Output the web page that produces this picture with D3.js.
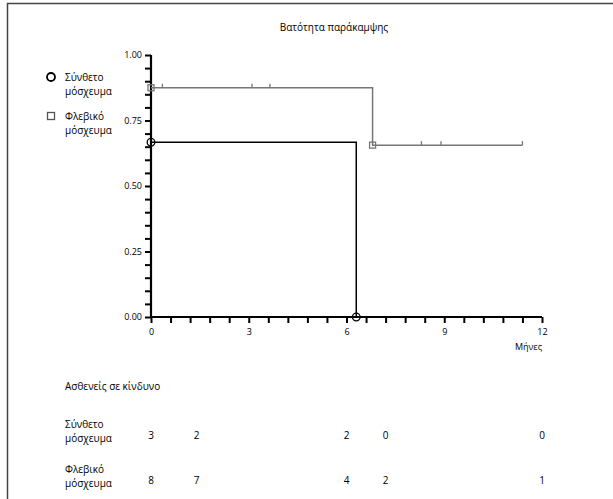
<!DOCTYPE html>
<html>
<head>
<meta charset="utf-8">
<script src="https://cdn.jsdelivr.net/npm/d3@7"></script>
<style>
  body { margin: 0; background: #fff; }
  svg { font-family: "Open Sans", sans-serif; }
</style>
</head>
<body>
<div id="chart"></div>
<script>
// data
const title = "Βατότητα παράκαμψης";
const groups = ["Σύνθετο μόσχευμα", "Φλεβικό μόσχευμα"];

const compositeTime = [0, 6.3];
const compositeSurv = [0.667, 0];
const compositeEvents = [0, 6.3];

const venousTime = [0, 6.8, 11.4];
const venousSurv = [0.875, 0.656, 0.656];
const venousEvents = [0, 6.8];
const venousCensored = [0.35, 3.1, 3.65, 8.3, 8.9, 11.4];

const xTicks = [0, 3, 6, 9, 12];
const yTicks = [0, 0.25, 0.5, 0.75, 1];

const riskTimes = [0, 1.4, 6, 7.2, 12];
const riskComposite = [3, 2, 2, 0, 0];
const riskVenous = [8, 7, 4, 2, 1];

const width = 613, height = 499;
const fs = 10;

const svg = d3.select("#chart").append("svg")
  .attr("width", width)
  .attr("height", height);

// frame
svg.append("rect")
  .attr("x", 7.5).attr("y", 3.5)
  .attr("width", 700).attr("height", 600)
  .attr("fill", "none")
  .attr("stroke", "#444")
  .attr("stroke-width", 1.5);

const x = d3.scaleLinear([0, 12], [151, 542]);
const y = d3.scaleLinear([0, 1], [317, 55]);

svg.append("text")
  .attr("x", 334).attr("y", 31)
  .attr("text-anchor", "middle")
  .attr("font-size", fs)
  .text(title);

// y axis
const yAxis = svg.append("g")
  .attr("transform", `translate(${x(0)},0)`)
  .call(d3.axisLeft(y).tickValues(d3.range(0, 1.0001, 0.05)).tickSize(6)
    .tickFormat(d => yTicks.some(t => Math.abs(t - d) < 1e-6) ? d3.format(".2f")(d) : ""));
yAxis.select(".domain").attr("stroke-width", 2.2).attr("d", `M0,${y(1)}V${y(0)}`);
yAxis.selectAll(".tick line").attr("stroke-width", 2);
yAxis.selectAll("text").attr("font-size", 9).attr("font-family", "Open Sans").attr("x", -9);

// x axis
const xAxis = svg.append("g")
  .attr("transform", `translate(0,${y(0)})`)
  .call(d3.axisBottom(x).tickValues(d3.range(0, 12.0001, 0.6)).tickSize(6)
    .tickFormat(d => xTicks.some(t => Math.abs(t - d) < 1e-6) ? d3.format("d")(d) : ""));
xAxis.select(".domain").attr("stroke-width", 2.2).attr("d", `M${x(0)},0H${x(12)}`);
xAxis.selectAll(".tick line").attr("stroke-width", 2);
xAxis.selectAll("text").attr("font-size", 9).attr("font-family", "Open Sans").attr("y", 12);

svg.append("text")
  .attr("x", x(12)).attr("y", 350)
  .attr("text-anchor", "end")
  .attr("font-size", 9)
  .text("Μήνες");

// step curves
const step = d3.line().curve(d3.curveStepAfter).x(d => x(d[0])).y(d => y(d[1]));

svg.append("path")
  .attr("d", step(d3.zip(venousTime, venousSurv)))
  .attr("fill", "none").attr("stroke", "#777").attr("stroke-width", 1.5);

svg.append("path")
  .attr("d", step(d3.zip(compositeTime, compositeSurv)))
  .attr("fill", "none").attr("stroke", "#000").attr("stroke-width", 1.5);

// censor ticks
const venousAt = t => venousSurv[d3.bisectRight(venousTime, t) - 1];
svg.append("g").selectAll("line")
  .data(venousCensored)
  .join("line")
  .attr("x1", d => x(d)).attr("x2", d => x(d))
  .attr("y1", d => y(venousAt(d))).attr("y2", d => y(venousAt(d)) - 4)
  .attr("stroke", "#777").attr("stroke-width", 1.3);

// event markers
const compositeAt = t => compositeSurv[d3.bisectRight(compositeTime, t) - 1];
svg.append("g").selectAll("circle")
  .data(compositeEvents)
  .join("circle")
  .attr("cx", d => x(d)).attr("cy", d => y(compositeAt(d)))
  .attr("r", 3.8)
  .attr("fill", "none").attr("stroke", "#000").attr("stroke-width", 1.3);

svg.append("g").selectAll("rect")
  .data(venousEvents)
  .join("rect")
  .attr("x", d => x(d) - 3).attr("y", d => y(venousAt(d)) - 3)
  .attr("width", 6).attr("height", 6)
  .attr("fill", "none").attr("stroke", "#777").attr("stroke-width", 1.3);

// legend
const legend = svg.append("g");
legend.append("circle")
  .attr("cx", 51).attr("cy", 77).attr("r", 4)
  .attr("fill", "none").attr("stroke", "#000").attr("stroke-width", 1.8);
legend.append("rect")
  .attr("x", 47.5).attr("y", 112.5).attr("width", 7).attr("height", 7)
  .attr("fill", "none").attr("stroke", "#555").attr("stroke-width", 1.3);

function twoLines(g, label, xx, y0) {
  const parts = label.split(" ");
  const t = g.append("text").attr("font-size", fs).attr("x", xx).attr("y", y0);
  parts.forEach((p, i) => t.append("tspan").attr("x", xx).attr("dy", i ? 14 : 0).text(p));
}
twoLines(legend, groups[0], 65, 81);
twoLines(legend, groups[1], 65, 120);

// number at risk table
const table = svg.append("g");
table.append("text")
  .attr("x", 65).attr("y", 390)
  .attr("font-size", fs)
  .text("Ασθενείς σε κίνδυνο");

[[groups[0], riskComposite, 428], [groups[1], riskVenous, 473]].forEach(([label, vals, yy]) => {
  twoLines(table, label, 65, yy);
  table.append("g").selectAll("text")
    .data(d3.zip(riskTimes, vals))
    .join("text")
    .attr("x", d => x(d[0]))
    .attr("y", yy + 11)
    .attr("text-anchor", "middle")
    .attr("font-size", fs)
    .text(d => d[1]);
});
</script>
</body>
</html>
